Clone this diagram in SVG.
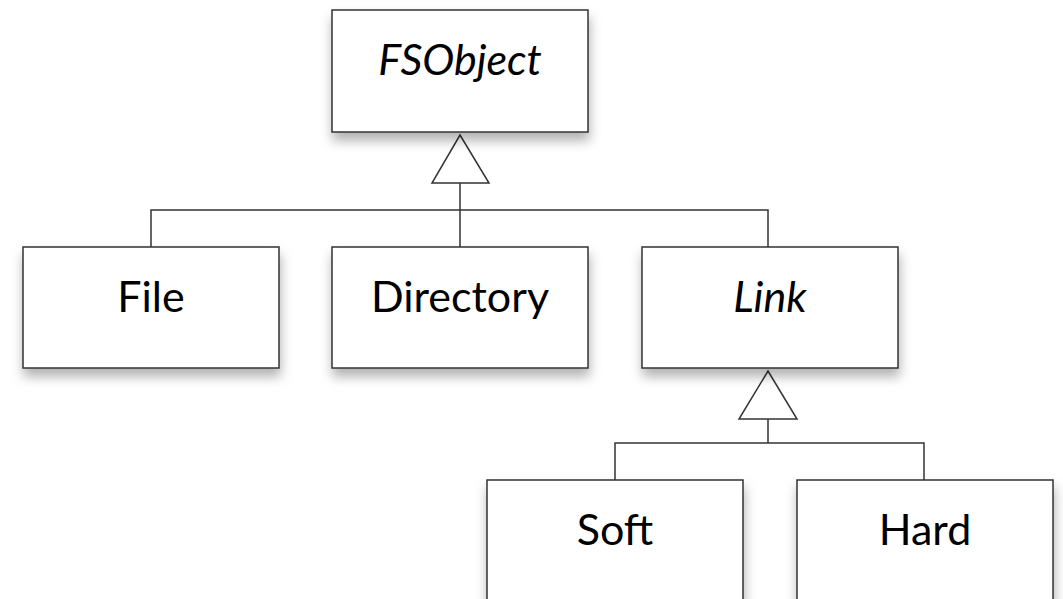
<svg xmlns="http://www.w3.org/2000/svg" width="1063" height="599" viewBox="0 0 1063 599">
<defs>
<filter id="sh" x="-20%" y="-20%" width="140%" height="150%">
<feDropShadow dx="1" dy="8" stdDeviation="6" flood-color="#000" flood-opacity="0.3"/>
</filter>
</defs>
<style>
.box{fill:#fff;stroke:#333;stroke-width:1.5;filter:url(#sh)}
.lbl{font-family:Lato,"Liberation Sans",sans-serif;font-size:43px;fill:#000;text-anchor:middle}
.it{font-style:italic}
.ln{fill:none;stroke:#333;stroke-width:1.5}
.tri{fill:#fff;stroke:#333;stroke-width:1.5}
</style>
<g id="connectors">
<path class="ln" d="M460,183 V210 M151,247 V210 H768 V247 M460,210 V247"/>
<polygon class="tri" points="460,135 489,183 432,183"/>
<path class="ln" d="M768,419 V443 M615,480 V443 H924 V480"/>
<polygon class="tri" points="768,371 797,419 739,419"/>
</g>
<g id="FSObject"><rect class="box" x="332" y="10" width="256" height="122"/><text class="lbl it" x="460" y="75">FSObject</text></g>
<g id="File"><rect class="box" x="23" y="247" width="256" height="121"/><text class="lbl" x="151" y="312">File</text></g>
<g id="Directory"><rect class="box" x="332" y="247" width="256" height="121"/><text class="lbl" x="460" y="312">Directory</text></g>
<g id="Link"><rect class="box" x="642" y="247" width="256" height="121"/><text class="lbl it" x="770" y="312">Link</text></g>
<g id="Soft"><rect class="box" x="487" y="480" width="256" height="140"/><text class="lbl" x="615" y="545">Soft</text></g>
<g id="Hard"><rect class="box" x="797" y="480" width="256" height="140"/><text class="lbl" x="925" y="545">Hard</text></g>
</svg>
